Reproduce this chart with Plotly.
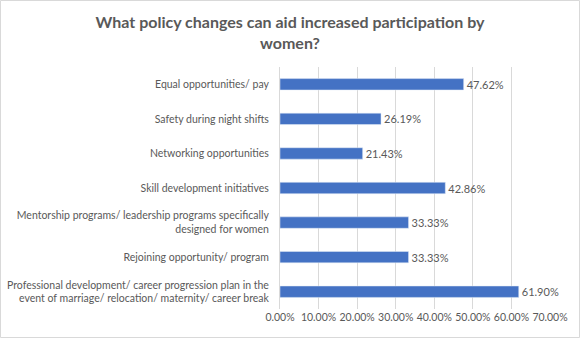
import plotly.graph_objects as go

categories = [
    "Equal opportunities/ pay",
    "Safety during night shifts",
    "Networking opportunities",
    "Skill development initiatives",
    "Mentorship programs/ leadership programs specifically<br>designed for women",
    "Rejoining opportunity/ program",
    "Professional development/ career progression plan in the<br>event of marriage/ relocation/ maternity/ career break",
]
values = [0.4762, 0.2619, 0.2143, 0.4286, 0.3333, 0.3333, 0.6190]
tick_vals = [0, 0.1, 0.2, 0.3, 0.4, 0.5, 0.6, 0.7]
tick_text = ["0.00%", "10.00%", "20.00%", "30.00%", "40.00%", "50.00%", "60.00%", "70.00%"]

FONT = "Lato"
GRAY = "#595959"

fig = go.Figure(go.Bar(
    y=categories,
    x=values,
    orientation="h",
    marker=dict(color="#4472C4"),
    text=[f"{v*100:.2f}%" for v in values],
    textposition="outside",
    constraintext="none",
    textfont=dict(family=FONT, size=11, color=GRAY),
    cliponaxis=False,
))

W, H = 580, 338
L, R, T, B = 280, 30, 67, 29
pw, ph = W - L - R, H - T - B

fig.update_layout(
    width=W, height=H,
    margin=dict(l=L, r=R, t=T, b=B, autoexpand=False),
    paper_bgcolor="white",
    plot_bgcolor="white",
    bargap=0.67,
    showlegend=False,
    title=dict(
        text="<b>What policy changes can aid increased participation by<br>women?</b>",
        x=0.5, xanchor="center", xref="container",
        y=1 - 28 / H, yanchor="top", yref="container",
        automargin=False,
        font=dict(family=FONT, size=16, color=GRAY),
    ),
    xaxis=dict(
        range=[0, 0.7],
        tickvals=tick_vals,
        ticktext=tick_text,
        tickangle=0,
        automargin=False,
        showgrid=True,
        gridcolor="#d9d9d9",
        gridwidth=1,
        zeroline=False,
        showline=False,
        tickfont=dict(family=FONT, size=10.5, color=GRAY),
        ticks="",
    ),
    yaxis=dict(
        autorange="reversed",
        automargin=False,
        showgrid=False,
        showline=True,
        linecolor="#d9d9d9",
        ticks="",
        ticklabelstandoff=8,
        tickfont=dict(family=FONT, size=10.5, color=GRAY),
    ),
    shapes=[dict(
        type="rect", xref="paper", yref="paper",
        x0=(0.5 - L) / pw, x1=(W - 0.5 - L) / pw,
        y0=-(B - 0.5) / ph, y1=(ph + T - 0.5) / ph,
        line=dict(color="#d9d9d9", width=1),
        fillcolor="rgba(0,0,0,0)",
        layer="below",
    )],
)

fig.write_html("out.html")
